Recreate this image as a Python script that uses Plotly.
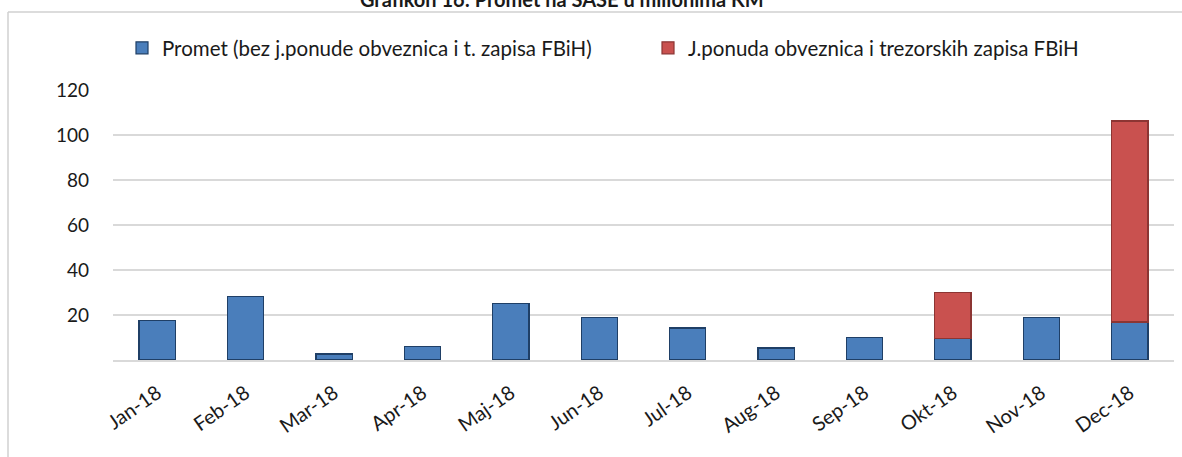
import plotly.graph_objects as go

months = ["Jan-18", "Feb-18", "Mar-18", "Apr-18", "Maj-18", "Jun-18",
          "Jul-18", "Aug-18", "Sep-18", "Okt-18", "Nov-18", "Dec-18"]
promet = [17.5, 28.4, 2.7, 6.1, 25.2, 19.0, 14.2, 5.3, 10.1, 9.5, 19.0, 16.9]
jponuda = [0, 0, 0, 0, 0, 0, 0, 0, 0, 20.6, 0, 89.3]
yticks = [20, 40, 60, 80, 100, 120]

name1 = "Promet (bez j.ponude obveznica i t. zapisa FBiH)"
name2 = "J.ponuda obveznica i trezorskih zapisa FBiH"
title = "Grafikon 16: Promet na SASE u milionima KM"

FONT = "Lato"

fig = go.Figure()
fig.add_trace(go.Bar(x=months, y=promet, name=name1, legend="legend",
                     marker=dict(color="#4A7EBB", line=dict(color="#1F3F66", width=1.2))))
fig.add_trace(go.Bar(x=months, y=[v if v else None for v in jponuda], name=name2,
                     legend="legend2",
                     marker=dict(color="#C9514F", line=dict(color="#8C3533", width=1.2))))

W, H = 1182, 457
L, R, T, B = 113, 8, 90, 97
pw, ph = W - L - R, H - T - B

leg_common = dict(orientation="h", yanchor="middle", xanchor="left",
                  y=1 + (T - 48) / ph, bgcolor="rgba(0,0,0,0)",
                  borderwidth=0,
                  font=dict(family=FONT, size=20.5, color="#1a1a1a"),
                  itemwidth=30)

frame_top = 1 + (T - 12) / ph
frame_left = (8 - L) / pw
frame_right = 1 + R / pw

fig.update_layout(
    width=W, height=H,
    barmode="stack", bargap=0.59,
    margin=dict(l=L, r=R, t=T, b=B),
    plot_bgcolor="white", paper_bgcolor="white",
    font=dict(family=FONT, size=19, color="#1a1a1a"),
    showlegend=True,
    legend=dict(x=(122 - L) / pw, **leg_common),
    legend2=dict(x=(648 - L) / pw, **leg_common),
    xaxis=dict(tickangle=-35, showgrid=False, showline=True,
               linecolor="#D9D9D9", linewidth=1.5, ticks="outside",
               ticklen=12, tickcolor="rgba(255,255,255,0)",
               tickfont=dict(family=FONT, size=20)),
    yaxis=dict(range=[0, 120], tickvals=yticks, showgrid=True,
               gridcolor="#D9D9D9", gridwidth=1.5, zeroline=False,
               showline=False, ticklabelstandoff=23,
               tickfont=dict(family=FONT, size=19)),
    annotations=[dict(text="<b>" + title + "</b>", xref="paper", yref="paper",
                      x=(562 - L) / pw, y=1 + (T + 1) / ph, xanchor="center",
                      yanchor="middle", showarrow=False,
                      font=dict(family=FONT, size=20, color="#1a1a1a"))],
    shapes=[
        dict(type="line", xref="paper", yref="paper",
             x0=frame_left, x1=frame_right, y0=frame_top, y1=frame_top,
             line=dict(color="#D0D0D0", width=1.5), layer="below"),
        dict(type="line", xref="paper", yref="paper",
             x0=frame_left, x1=frame_left, y0=-T / ph - 0.5, y1=frame_top,
             line=dict(color="#D0D0D0", width=1.5), layer="below"),
    ],
)

fig.write_html("out.html", config={"displayModeBar": False},
               post_script="document.body.style.margin='0';document.body.style.overflow='hidden';")
